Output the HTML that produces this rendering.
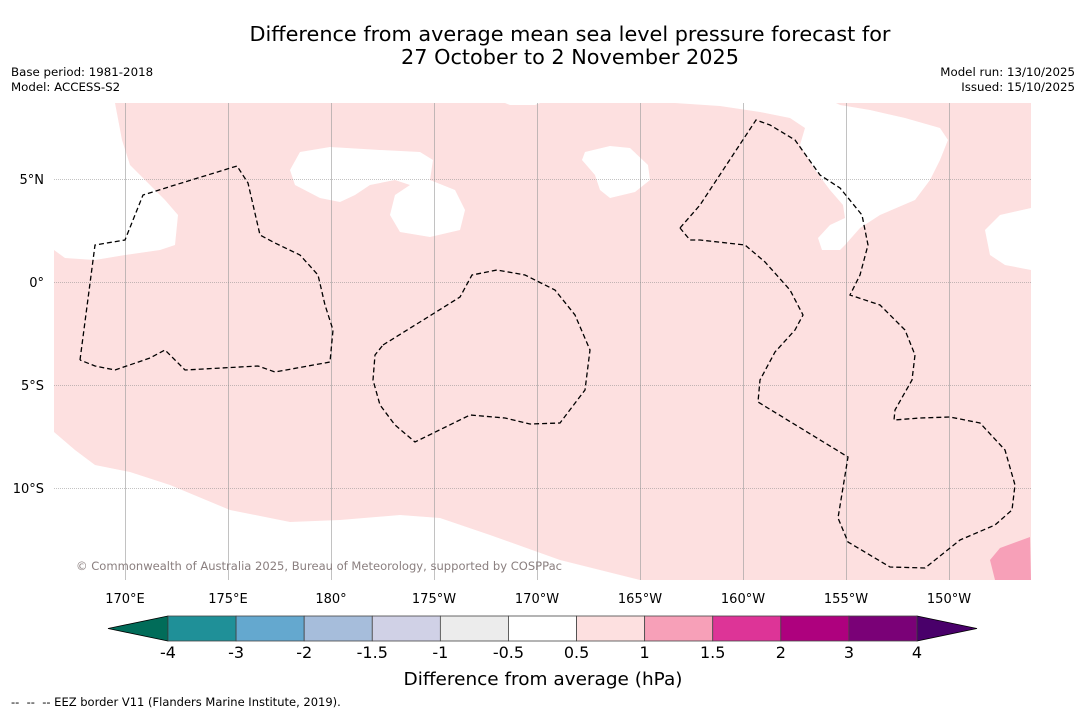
<!DOCTYPE html>
<html><head><meta charset="utf-8">
<style>
html,body{margin:0;padding:0;background:#fff;}
body{width:1085px;height:713px;overflow:hidden;font-family:"DejaVu Sans","Liberation Sans",sans-serif;}
svg text{font-family:"DejaVu Sans","Liberation Sans",sans-serif;}
</style></head>
<body>
<svg id="chart" width="1085" height="713" viewBox="0 0 1085 713" xmlns="http://www.w3.org/2000/svg">
  <text x="570" y="41" font-size="20.8" text-anchor="middle">Difference from average mean sea level pressure forecast for</text>
  <text x="570" y="64" font-size="20.8" text-anchor="middle">27 October to 2 November 2025</text>
  <text x="11" y="76" font-size="11.8">Base period: 1981-2018</text>
  <text x="11" y="91" font-size="11.8">Model: ACCESS-S2</text>
  <text x="1075" y="76" font-size="11.8" text-anchor="end">Model run: 13/10/2025</text>
  <text x="1075" y="91" font-size="11.8" text-anchor="end">Issued: 15/10/2025</text>

  <g id="map">
    <defs><clipPath id="mc"><rect x="54" y="103" width="977" height="477"/></clipPath></defs>
    <g clip-path="url(#mc)">
      <rect x="54" y="103" width="977" height="477" fill="#fde0e0"/>
      <polygon fill="#fff" points="54,103 115,103 122,140 130,165 165,200 178,215 175,245 160,250 125,255 95,260 65,258 54,250"/>
      <polygon fill="#fff" points="54,432 75,450 95,465 130,472 170,485 230,510 290,522 340,520 400,515 440,518 490,535 560,560 640,580 54,580"/>
      <polygon fill="#fff" points="300,152 330,147 380,150 420,152 433,160 430,180 455,190 465,210 460,230 430,237 400,232 390,215 395,195 410,185 395,180 370,185 355,195 340,202 320,198 295,185 290,170"/>
      <polygon fill="#fff" points="585,152 610,146 630,148 648,165 650,180 635,192 610,198 600,190 595,175 582,160"/>
      <polygon fill="#fff" points="505,103 540,103 535,105 510,105"/>
      <polygon fill="#fff" points="675,103 836,103 840,105 870,110 905,118 940,128 948,140 940,160 930,180 915,200 880,215 860,228 845,245 840,250 822,250 818,238 830,225 845,218 843,205 830,190 815,170 800,145 805,128 790,118 760,112 720,106"/>
      <polygon fill="#fff" points="1031,208 1000,215 985,230 990,255 1005,265 1031,270"/>
      <polygon fill="#f7a0b8" points="990,560 1000,548 1030,537 1031,580 995,580"/>
      <g id="grid"></g>
      <g fill="none" stroke="#000" stroke-width="1.3" stroke-dasharray="5,3">
        <polyline points="80,360 95,245 125,240 143,195 175,185 237,166 248,183 260,235 275,243 300,255 318,275 325,305 333,330 330,362 275,372 258,366 185,370 165,350 150,358 115,370 95,366 80,360"/>
        <polyline points="383,345 420,322 460,297 472,275 497,270 525,275 555,290 575,315 590,350 585,390 560,423 530,424 505,418 470,415 415,442 395,425 380,405 373,380 375,355 383,345"/>
        <polyline points="680,228 700,205 756,120 770,125 795,140 820,175 840,188 862,215 868,245 860,275 850,295 880,305 905,330 915,355 912,380 895,410 894,420 920,418 950,417 980,423 1005,450 1015,485 1012,510 995,525 960,540 925,568 890,567 848,542 838,518 848,457 758,402 760,380 775,352 795,330 803,315 790,290 765,262 745,245 700,240 690,240 680,228"/>
      </g>
      <text x="76" y="570" font-size="11.6" fill="#8a7f7f" textLength="486" lengthAdjust="spacingAndGlyphs">© Commonwealth of Australia 2025, Bureau of Meteorology, supported by COSPPac</text>
    </g>
    <g id="ticklabels"></g>
  </g>

  <g id="colorbar"></g>
  <text x="543" y="685" font-size="18" text-anchor="middle" textLength="279" lengthAdjust="spacingAndGlyphs">Difference from average (hPa)</text>
  <text x="11" y="706" font-size="11.5" xml:space="preserve">--  --  -- EEZ border V11 (Flanders Marine Institute, 2019).</text>
</svg>
<script>
const lonTicks = [170, 175, 180, 185, 190, 195, 200, 205, 210];
const lonLabels = ["170°E","175°E","180°","175°W","170°W","165°W","160°W","155°W","150°W"];
const latTicks = [5, 0, -5, -10];
const latLabels = ["5°N","0°","5°S","10°S"];
const cbLevels = ["-4","-3","-2","-1.5","-1","-0.5","0.5","1","1.5","2","3","4"];
const cbColors = ["#1f9098","#64a8cf","#a6bddb","#d0d1e6","#ececec","#ffffff","#fde0e0","#f7a0b8","#dd3497","#ae017e","#7a0177"];
const cbLowColor = "#016c59";
const cbHighColor = "#49006a";

const NS = "http://www.w3.org/2000/svg";
function xLon(l){ return 125 + (l - 170) * 20.6; }
function yLat(l){ return 282 - l * 20.6; }
function mk(tag, attrs, parent){ const e = document.createElementNS(NS, tag); for (const k in attrs) e.setAttribute(k, attrs[k]); parent.appendChild(e); return e; }

const grid = document.getElementById('grid');
const tl = document.getElementById('ticklabels');
lonTicks.forEach((l, i) => {
  const x = Math.round(xLon(l)) + 0.5;
  const ln = mk('line', {x1:x, x2:x, y1:103, y2:580, stroke:'#999', 'stroke-width':0.6}, grid);
  
  
  const t = mk('text', {x:xLon(l), y:603, 'font-size':13, 'text-anchor':'middle'}, tl);
  t.textContent = lonLabels[i];
  
  
});
latTicks.forEach((l, i) => {
  const y = Math.round(yLat(l)) + 0.5;
  const ln = mk('line', {x1:54, x2:1031, y1:y, y2:y, stroke:'#888', 'stroke-width':0.6, 'stroke-dasharray':'1,1'}, grid);
  
  
  const t = mk('text', {x:44, y:yLat(l)+5, 'font-size':13, 'text-anchor':'end'}, tl);
  t.textContent = latLabels[i];
  
  
});

const cb = document.getElementById('colorbar');
const cbX0 = 168, cbX1 = 917, cbY = 616, cbH = 25;
const segW = (cbX1 - cbX0) / cbColors.length;
function cbx(i){ return cbX0 + i * segW; }
const lo = mk('polygon', {points:`${cbX0},${cbY} ${108},${cbY+cbH/2} ${cbX0},${cbY+cbH}`, fill:cbLowColor, stroke:'#000', 'stroke-width':0.8}, cb);


const hi = mk('polygon', {points:`${cbX1},${cbY} ${977},${cbY+cbH/2} ${cbX1},${cbY+cbH}`, fill:cbHighColor, stroke:'#000', 'stroke-width':0.8}, cb);


cbColors.forEach((c, i) => {
  const r = mk('rect', {x:cbx(i), y:cbY, width:segW, height:cbH, fill:c, stroke:'#444', 'stroke-width':0.8}, cb);
  
  
});
cbLevels.forEach((lv, i) => {
  const t = mk('text', {x:cbx(i), y:658, 'font-size':16, 'text-anchor':'middle'}, cb);
  t.textContent = lv;
  
  
});
</script>
</body></html>
